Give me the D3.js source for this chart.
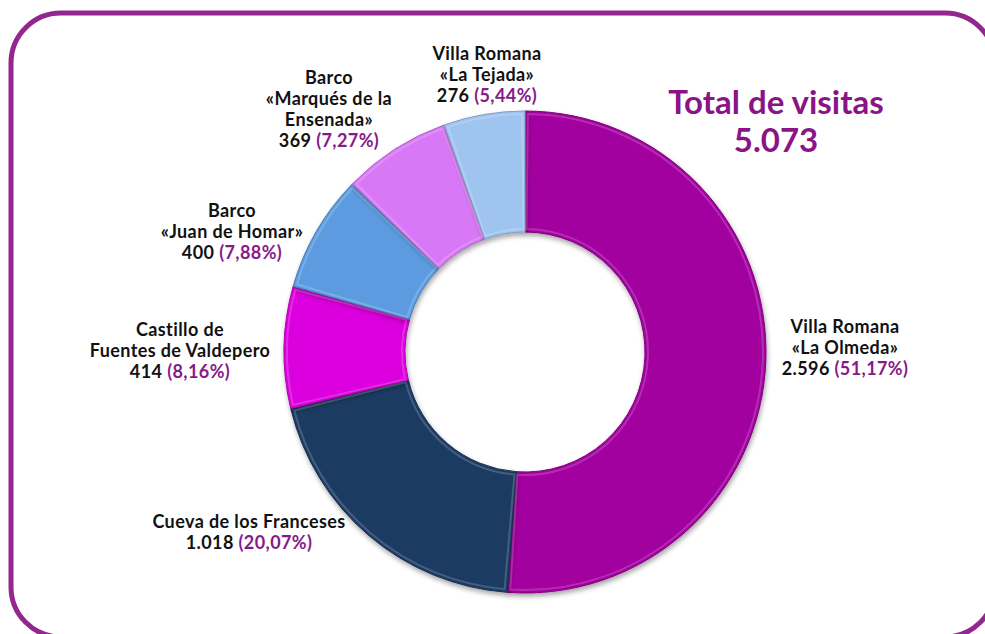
<!DOCTYPE html>
<html lang="es">
  <head>
    <meta charset="UTF-8" />
    <title>Total de visitas</title>
    <style>
      body {
        margin: 0;
        background: #fff;
      }
      svg {
        display: block;
        font-family: 'Century Gothic', 'Lato', sans-serif;
        font-weight: bold;
      }
    </style>
  </head>
  <body>
    <svg id="svg" width="985" height="634"></svg>

    <script src="https://d3js.org/d3.v7.min.js"></script>
    <script>
      // data (clockwise from 12 o'clock)
      const names = [
        ['Villa Romana', '«La Olmeda»'],
        ['Cueva de los Franceses'],
        ['Castillo de', 'Fuentes de Valdepero'],
        ['Barco', '«Juan de Homar»'],
        ['Barco', '«Marqués de la', 'Ensenada»'],
        ['Villa Romana', '«La Tejada»']
      ];
      const visits = [2596, 1018, 414, 400, 369, 276];
      const percents = ['51,17%', '20,07%', '8,16%', '7,88%', '7,27%', '5,44%'];
      const totalLabel = 'Total de visitas';
      const totalValue = '5.073';

      const colors = ['#a2009f', '#1f3b64', '#db00dd', '#5b9be0', '#d878f6', '#9fc4f0'];
      // hand placed label anchors (centre x, first baseline y)
      const labelPos = [
        [845, 333], [249, 528], [180, 336], [232, 217], [329, 84], [487, 60]
      ];

      const svg = d3.select('#svg');
      const fmt = d3.formatLocale({ decimal: ',', thousands: '.', grouping: [3] }).format(',d');

      // rounded frame
      svg.append('rect')
        .attr('x', 11).attr('y', 13)
        .attr('width', 984).attr('height', 624)
        .attr('rx', 50)
        .attr('fill', 'none')
        .attr('stroke', '#93278f')
        .attr('stroke-width', 5);

      const defs = svg.append('defs');
      const shadow = defs.append('filter').attr('id', 'shadow')
        .attr('x', '-20%').attr('y', '-20%').attr('width', '140%').attr('height', '140%');
      shadow.append('feDropShadow')
        .attr('dx', 1).attr('dy', 3).attr('stdDeviation', 2.5)
        .attr('flood-color', '#000').attr('flood-opacity', 0.35);

      const cx = 525, cy = 352, R = 241, r = 120;
      const pie = d3.pie().sort(null).value((d) => d);
      const arc = d3.arc().innerRadius(r).outerRadius(R);
      const arcs = pie(visits);

      const g = svg.append('g').attr('transform', `translate(${cx},${cy})`);
      g.selectAll('path.slice')
        .data(arcs)
        .enter()
        .append('path')
        .attr('class', 'slice')
        .attr('d', arc)
        .attr('fill', (d, i) => colors[i])
        .attr('stroke', (d, i) => d3.color(colors[i]).darker(0.6))
        .attr('stroke-width', 1)
        .attr('filter', 'url(#shadow)');

      // soft bevel highlight on each slice
      const bevel = d3.arc().innerRadius(r + 3).outerRadius(R - 3);
      g.selectAll('path.bevel')
        .data(arcs)
        .enter()
        .append('path')
        .attr('class', 'bevel')
        .attr('d', (d) => bevel({ ...d, startAngle: d.startAngle + 0.012, endAngle: d.endAngle - 0.012 }))
        .attr('fill', 'none')
        .attr('stroke', '#fff')
        .attr('stroke-opacity', 0.18)
        .attr('stroke-width', 2);

      // labels
      const lineH = 21;
      names.forEach((lines, i) => {
        const [x, y] = labelPos[i];
        const t = svg.append('text')
          .attr('text-anchor', 'middle')
          .attr('font-size', 18)
          .attr('letter-spacing', 0.4)
          .attr('fill', '#111');
        lines.forEach((ln, j) => {
          t.append('tspan').attr('x', x).attr('y', y + j * lineH).text(ln);
        });
        const last = t.append('tspan').attr('x', x).attr('y', y + lines.length * lineH);
        last.append('tspan').text(fmt(visits[i]) + ' ');
        last.append('tspan').attr('fill', '#861a8a').text('(' + percents[i] + ')');
      });

      svg.append('text')
        .attr('x', 776).attr('y', 114)
        .attr('text-anchor', 'middle')
        .attr('font-size', 33)
        .attr('fill', '#8a1486')
        .text(totalLabel);
      svg.append('text')
        .attr('x', 776).attr('y', 152)
        .attr('text-anchor', 'middle')
        .attr('font-size', 33)
        .attr('fill', '#8a1486')
        .text(totalValue);
    </script>
  </body>
</html>
